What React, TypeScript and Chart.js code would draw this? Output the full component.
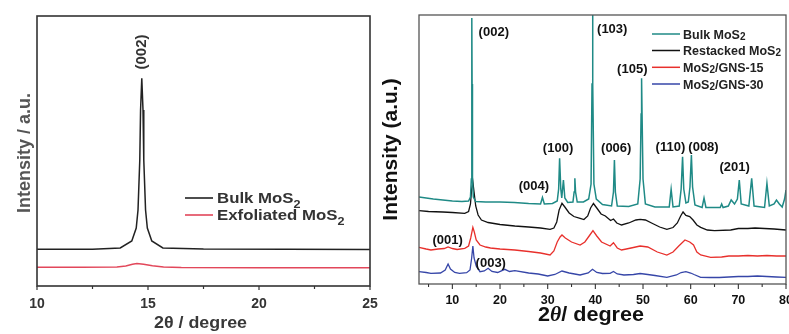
import React, { useEffect, useRef } from "react";
import { Chart, registerables } from "chart.js";

Chart.register(...registerables);

const SANS = '"Liberation Sans", Arial, Helvetica, sans-serif';
const SERIF = '"Liberation Serif", "Times New Roman", serif';

// ---------------- Left panel data ----------------
const leftSeriesNames = ["Bulk MoS₂", "Exfoliated MoS₂"];
const leftColors = ["#222222", "#e2475a"];
const leftBulkTheta = [10, 12.5, 13.75, 14.27, 14.47, 14.55, 14.63, 14.665, 14.72, 14.775, 14.81, 14.89, 14.97, 15.17, 15.67, 17.5, 25];
const leftBulkI = [36.7, 36.8, 38.0, 45, 58, 76, 126, 176, 207.7, 176, 126, 76, 58, 45, 38.0, 36.9, 36.6];
const leftExfTheta = [10, 12, 13.6, 14.0, 14.3, 14.5, 14.8, 15.2, 15.7, 16.5, 20, 25];
const leftExfI = [18.8, 18.8, 19, 20, 21.8, 22.5, 21.7, 20.2, 19, 18.4, 18.3, 18.3];
const leftTicks = [10, 15, 20, 25];
const leftMinorTicks = [12.5, 17.5, 22.5];
const leftPeakLabel = "(002)";
const leftPeakTheta = 14.73;
const leftPeakI = 234;

// ---------------- Right panel data ----------------
const rightSeriesNames = ["Bulk MoS₂", "Restacked MoS₂", "MoS₂/GNS-15", "MoS₂/GNS-30"];
const rightColors = ["#1f8a86", "#111111", "#e8302c", "#3646a8"];

const bulkTheta = [3.0, 4.5, 6.0, 8.0, 10.0, 12.0, 13.4, 13.8, 13.98, 14.06, 14.1, 14.14, 14.22, 14.4, 14.9, 17, 20, 23, 26, 28.5, 28.9, 29.3, 31.0, 32.0, 32.3, 32.5, 32.75, 32.95, 33.3, 33.6, 34.2, 35.3, 35.55, 35.7, 35.85, 36.2, 37.5, 38.6, 39.1, 39.3, 39.4, 39.5, 39.7, 40.2, 41.5, 43.4, 43.8, 44.0, 44.2, 44.6, 47, 48.9, 49.4, 49.6, 49.7, 49.8, 50.0, 50.5, 52.5, 55.5, 55.9, 56.3, 57.6, 58.0, 58.3, 58.55, 59.0, 59.5, 59.85, 60.15, 60.4, 60.9, 62.4, 62.8, 63.2, 66.2, 66.5, 66.8, 67.9, 68.5, 69.2, 69.8, 70.2, 70.6, 72.2, 72.8, 73.3, 75.5, 76.0, 76.5, 77.5, 78.0, 78.6, 79.2, 79.7, 80.0];
const bulkI = [87, 86, 85, 84, 83, 82.5, 83, 87, 105, 200, 266, 200, 105, 87, 82.5, 82, 82, 81.5, 80.5, 80, 86.5, 80, 80.5, 83, 95, 125.7, 95, 86, 104, 86, 81.5, 82, 92, 105.7, 92, 82, 82, 85, 100, 200, 290, 200, 100, 85, 79.5, 78, 92, 124, 92, 78, 77.5, 80, 105, 170, 205.7, 170, 105, 80, 77, 77, 94.7, 77, 78, 95, 127.3, 95, 81, 82, 97, 129, 97, 79, 76.5, 86, 76.5, 76.5, 80, 76.5, 78, 84, 80, 85, 104, 80, 78, 105.7, 78, 76.5, 100.7, 78, 80, 84, 80, 77, 85, 94];

const restackTheta = [3.0, 5.0, 8.0, 10.0, 12.6, 13.4, 13.8, 14.05, 14.3, 14.55, 14.9, 15.4, 16.1, 17.5, 20.0, 23.1, 26.0, 28.5, 30.5, 31.3, 31.9, 32.4, 33.0, 33.6, 34.5, 35.5, 36.8, 37.6, 38.4, 39.0, 39.6, 40.3, 41.2, 42.1, 43.2, 43.8, 44.5, 45.5, 47.0, 48.5, 49.4, 50.5, 52.0, 53.5, 55.0, 56.3, 57.2, 57.9, 58.4, 59.0, 59.8, 60.5, 61.3, 62.1, 63.5, 65.0, 68.4, 70.0, 72.0, 73.5, 75.5, 77.5, 80.0];
const restackI = [73.3, 72.5, 72, 71.5, 70.7, 72.5, 80, 95, 102.3, 92, 78, 69, 64, 61.5, 59.5, 58, 57, 56, 54.7, 56, 62, 74, 80.7, 77, 71, 67.5, 65.7, 64.5, 68, 76, 80.5, 76, 70, 68, 63.5, 65, 61, 59, 61, 64, 64.7, 64, 60.5, 57, 54.7, 56.5, 61, 68, 72, 68.5, 67.5, 64, 59, 56.7, 54, 53.3, 54, 55.5, 55.5, 56, 55.5, 55, 54];

const gns15Theta = [3.0, 4.5, 5.5, 7.0, 8.3, 9.1, 10.0, 11.0, 12.6, 13.4, 13.85, 14.3, 14.6, 15.0, 15.8, 17.0, 18.0, 20.0, 23.1, 26.0, 28.5, 30.5, 31.3, 32.0, 32.6, 33.0, 33.7, 35.0, 36.8, 37.8, 38.7, 39.5, 40.3, 41.3, 43.1, 43.8, 44.6, 45.5, 47.5, 49.4, 51.0, 53.0, 55.0, 56.3, 57.5, 58.8, 59.8, 60.6, 61.3, 62.1, 64.2, 66.5, 68.0, 70.0, 72.0, 74.0, 76.0, 78.0, 80.0];
const gns15I = [36.7, 35, 34, 35, 35.5, 37, 35.5, 34.5, 35.7, 38, 46, 56.7, 52, 44, 39, 37, 36, 35, 34, 32.5, 31, 29, 33, 42, 47, 49, 46, 42, 39, 42, 48, 53.3, 48, 42, 38, 41.3, 36, 34, 36, 38, 37, 32, 29, 32, 38, 44, 42, 39, 32, 29, 26.7, 27, 28, 28, 28.5, 28, 28.5, 28, 28];

const gns30Theta = [3.0, 4.5, 5.5, 7.5, 8.5, 9.1, 9.6, 10.5, 11.5, 13.0, 13.7, 14.05, 14.3, 14.55, 15.0, 15.8, 16.7, 17.5, 18.3, 19.5, 21.0, 22.0, 23.1, 26.0, 28.0, 30.0, 31.5, 33.0, 34.5, 36.8, 38.5, 39.4, 40.3, 41.5, 43.1, 43.8, 44.6, 46.0, 48.0, 49.4, 51.0, 52.5, 55.0, 57.0, 58.0, 59.0, 60.0, 60.7, 62.1, 64.0, 66.0, 68.0, 70.0, 72.0, 74.0, 76.0, 78.0, 80.0];
const gns30I = [12.3, 11.5, 10.7, 11, 14, 20, 15, 11.5, 10.7, 11.3, 14, 26, 38, 26, 18, 12.3, 13, 15.7, 12.5, 11.5, 14.7, 12.5, 13.3, 11, 10, 8, 9.5, 13, 11, 9, 11, 14.7, 11.5, 10.5, 10.7, 12.5, 10, 9, 9.5, 10.5, 9.5, 8.5, 6.7, 9, 11.5, 12.3, 11, 9.5, 6.7, 6.5, 6.5, 7, 7.5, 7.5, 8, 7.5, 7, 6.7];

const rightTicks = [10, 20, 30, 40, 50, 60, 70, 80];
const rightMinorTicks = [5, 15, 25, 35, 45, 55, 65, 75];
const peakLabels = ["(002)", "(103)", "(105)", "(100)", "(004)", "(006)", "(110)", "(008)", "(201)", "(001)", "(003)"];
const peakLabelTheta = [18.69, 43.54, 47.75, 32.17, 27.12, 44.38, 55.75, 62.69, 69.22, 9.01, 18.06];
const peakLabelI = [252, 255, 215, 136, 98, 136, 137, 137, 117, 44, 21];

// ---------------- helpers ----------------
type Run = { t: string; font: string; dy: number };

function makeRuns(text: string, font: (s: number) => string, size: number, subScale: number, subDy: number): Run[] {
  const runs: Run[] = [];
  let buf = "";
  for (const ch of text) {
    if (ch === "₂") {
      if (buf) runs.push({ t: buf, font: font(size), dy: 0 });
      buf = "";
      runs.push({ t: "2", font: font(size * subScale), dy: subDy });
    } else buf += ch;
  }
  if (buf) runs.push({ t: buf, font: font(size), dy: 0 });
  return runs;
}

function drawRuns(ctx: CanvasRenderingContext2D, runs: Run[], x: number, y: number, align: "left" | "center", color: string, rot = 0, sx = 1) {
  ctx.save();
  ctx.translate(x, y);
  if (rot) ctx.rotate(rot);
  ctx.scale(sx, 1);
  ctx.fillStyle = color;
  ctx.textBaseline = "alphabetic";
  ctx.textAlign = "left";
  const widths = runs.map((r) => {
    ctx.font = r.font;
    return ctx.measureText(r.t).width;
  });
  const total = widths.reduce((a, b) => a + b, 0);
  let cx = align === "left" ? 0 : -total / 2;
  runs.forEach((r, i) => {
    ctx.font = r.font;
    ctx.fillText(r.t, cx, r.dy);
    cx += widths[i];
  });
  ctx.restore();
}

function seg(ctx: CanvasRenderingContext2D, x1: number, y1: number, x2: number, y2: number) {
  ctx.beginPath();
  ctx.moveTo(x1, y1);
  ctx.lineTo(x2, y2);
  ctx.stroke();
}

const bold = (s: number) => `bold ${s}px ${SANS}`;

const leftPlugin = {
  id: "leftDecor",
  afterDraw(chart: any) {
    const { ctx, chartArea: a } = chart;
    const x = chart.scales.x;
    const y = chart.scales.y;
    ctx.save();
    ctx.strokeStyle = "#333";
    ctx.lineWidth = 1.6;
    ctx.strokeRect(a.left, a.top, a.right - a.left, a.bottom - a.top);
    ctx.lineWidth = 1.2;
    leftTicks.forEach((v) => {
      const px = x.getPixelForValue(v);
      seg(ctx, px, a.bottom, px, a.bottom + 4);
    });
    leftMinorTicks.forEach((v) => {
      const px = x.getPixelForValue(v);
      seg(ctx, px, a.bottom, px, a.bottom + 3);
    });
    leftTicks.forEach((v) => {
      drawRuns(ctx, [{ t: String(v), font: bold(14), dy: 0 }], x.getPixelForValue(v), 308, "center", "#333");
    });
    drawRuns(ctx, [{ t: "2θ / degree", font: bold(17), dy: 0 }], (a.left + a.right) / 2 - 3, 328, "center", "#383838", 0, 1.05);
    drawRuns(ctx, [{ t: "Intensity / a.u.", font: bold(18), dy: 0 }], 30, (a.top + a.bottom) / 2 + 2, "center", "#555", -Math.PI / 2);
    drawRuns(ctx, [{ t: leftPeakLabel, font: bold(15), dy: 0 }], x.getPixelForValue(leftPeakTheta) + 4, y.getPixelForValue(leftPeakI), "center", "#333", -Math.PI / 2);
    const rowsY = [198, 215];
    leftSeriesNames.forEach((name, i) => {
      ctx.strokeStyle = leftColors[i];
      ctx.lineWidth = 1.6;
      seg(ctx, 185, rowsY[i], 213, rowsY[i]);
      drawRuns(ctx, makeRuns(name, bold, 15, 0.75, 5), 217, rowsY[i] + 5, "left", "#333", 0, 1.12);
    });
    ctx.restore();
  },
};

const rightPlugin = {
  id: "rightDecor",
  afterDraw(chart: any) {
    const { ctx, chartArea: a } = chart;
    const x = chart.scales.x;
    const y = chart.scales.y;
    ctx.save();
    ctx.strokeStyle = "#555";
    ctx.lineWidth = 1.3;
    ctx.strokeRect(a.left, a.top, a.right - a.left, a.bottom - a.top);
    ctx.strokeStyle = "#333";
    ctx.lineWidth = 1.1;
    rightTicks.forEach((v) => {
      const px = x.getPixelForValue(v);
      seg(ctx, px, a.bottom, px, a.bottom + 5);
    });
    rightMinorTicks.forEach((v) => {
      const px = x.getPixelForValue(v);
      seg(ctx, px, a.bottom, px, a.bottom + 3);
    });
    rightTicks.forEach((v) => {
      drawRuns(ctx, [{ t: String(v), font: bold(12.5), dy: 0 }], x.getPixelForValue(v), 303.5, "center", "#111");
    });
    drawRuns(
      ctx,
      [
        { t: "2", font: bold(20), dy: 0 },
        { t: "θ", font: `italic bold 20px ${SERIF}`, dy: 0 },
        { t: "/ degree", font: bold(20), dy: 0 },
      ],
      211,
      321,
      "center",
      "#111",
      0,
      1.08
    );
    drawRuns(ctx, [{ t: "Intensity (a.u.)", font: bold(21), dy: 0 }], 17, (a.top + a.bottom) / 2, "center", "#111", -Math.PI / 2);
    peakLabels.forEach((lab, i) => {
      drawRuns(ctx, [{ t: lab, font: bold(13), dy: 0 }], x.getPixelForValue(peakLabelTheta[i]), y.getPixelForValue(peakLabelI[i]) + 4, "center", "#111");
    });
    const rowsY = [34, 50.5, 67.3, 84];
    rightSeriesNames.forEach((name, i) => {
      ctx.strokeStyle = rightColors[i];
      ctx.lineWidth = 1.5;
      seg(ctx, 272, rowsY[i], 300, rowsY[i]);
      drawRuns(ctx, makeRuns(name, bold, 12.5, 0.8, 1), 303, rowsY[i] + 4.5, "left", "#222");
    });
    ctx.restore();
  },
};

function toPoints(xs: number[], ys: number[]) {
  return xs.map((v, i) => ({ x: v, y: ys[i] }));
}

function baseOptions(xMin: number, xMax: number, yMax: number, padding: any) {
  return {
    animation: false as const,
    responsive: false,
    maintainAspectRatio: false,
    events: [] as any[],
    layout: { padding },
    scales: {
      x: { type: "linear" as const, min: xMin, max: xMax, display: false },
      y: { type: "linear" as const, min: 0, max: yMax, display: false },
    },
    plugins: { legend: { display: false }, tooltip: { enabled: false } },
    elements: { point: { radius: 0 }, line: { tension: 0 } },
  };
}

export default function App() {
  const leftRef = useRef<HTMLCanvasElement>(null);
  const rightRef = useRef<HTMLCanvasElement>(null);

  useEffect(() => {
    const left = new Chart(leftRef.current!, {
      type: "line",
      data: {
        datasets: [
          { data: toPoints(leftBulkTheta, leftBulkI), borderColor: leftColors[0], borderWidth: 1.5, pointRadius: 0 },
          { data: toPoints(leftExfTheta, leftExfI), borderColor: leftColors[1], borderWidth: 1.5, pointRadius: 0 },
        ],
      },
      options: baseOptions(10, 25, 270, { left: 37, right: 10, top: 16, bottom: 48 }) as any,
      plugins: [leftPlugin],
    });
    const right = new Chart(rightRef.current!, {
      type: "line",
      data: {
        datasets: [
          { data: toPoints(bulkTheta, bulkI), borderColor: rightColors[0], borderWidth: 1.5, pointRadius: 0 },
          { data: toPoints(restackTheta, restackI), borderColor: rightColors[1], borderWidth: 1.3, pointRadius: 0 },
          { data: toPoints(gns15Theta, gns15I), borderColor: rightColors[2], borderWidth: 1.3, pointRadius: 0 },
          { data: toPoints(gns30Theta, gns30I), borderColor: rightColors[3], borderWidth: 1.3, pointRadius: 0 },
        ],
      },
      options: baseOptions(3, 80, 269, { left: 39, right: 3, top: 15, bottom: 50 }) as any,
      plugins: [rightPlugin],
    });
    return () => {
      left.destroy();
      right.destroy();
    };
  }, []);

  return (
    <div style={{ position: "fixed", left: 0, top: 0, width: 789, height: 334, background: "#fff" }}>
      <canvas ref={leftRef} width={380} height={334} style={{ position: "absolute", left: 0, top: 0, width: 380, height: 334 }} />
      <canvas ref={rightRef} width={409} height={334} style={{ position: "absolute", left: 380, top: 0, width: 409, height: 334 }} />
    </div>
  );
}
